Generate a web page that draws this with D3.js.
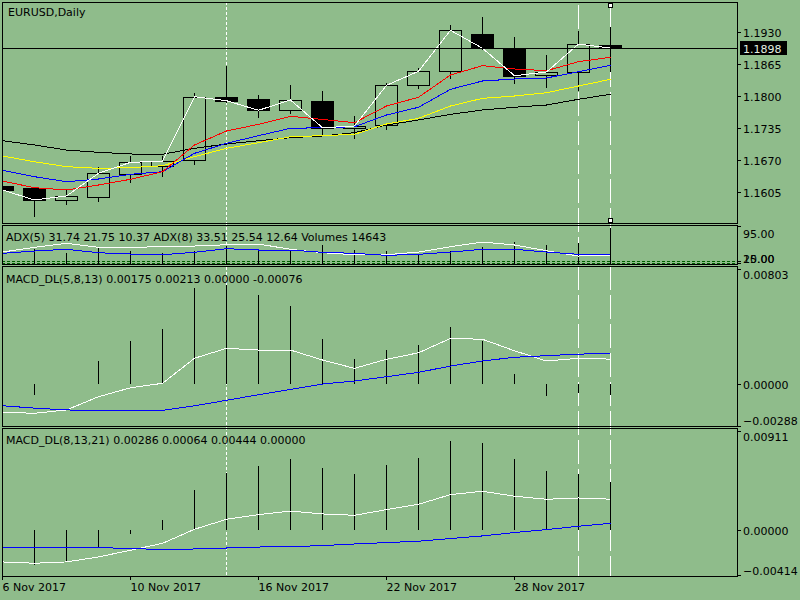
<!DOCTYPE html>
<html>
<head>
<meta charset="utf-8">
<script src="https://cdn.jsdelivr.net/npm/d3@7"></script>
<style>
body { margin: 0; background: #8fbc8b; }
svg { display: block; }
text { font-family: "DejaVu Sans", sans-serif; font-size: 11px; fill: #000; }
</style>
</head>
<body>
<div id="chart"></div>
<script>
// bars, one per trading day
var dates = ["6 Nov 2017", "7 Nov 2017", "8 Nov 2017", "9 Nov 2017", "10 Nov 2017",
	"13 Nov 2017", "14 Nov 2017", "15 Nov 2017", "16 Nov 2017", "17 Nov 2017",
	"20 Nov 2017", "21 Nov 2017", "22 Nov 2017", "23 Nov 2017", "24 Nov 2017",
	"27 Nov 2017", "28 Nov 2017", "29 Nov 2017", "30 Nov 2017", "1 Dec 2017"];
var dateTicks = [0, 4, 8, 12, 16];

var open  = [1.16178, 1.16131, 1.15888, 1.15961, 1.16428, 1.16584, 1.16700, 1.17986, 1.17945, 1.17716,
	1.17904, 1.17350, 1.17411, 1.18223, 1.18520, 1.19265, 1.18975, 1.18427, 1.18487, 1.19042];
var high  = [1.16210, 1.16150, 1.16111, 1.16558, 1.16787, 1.16787, 1.18061, 1.18615, 1.18026, 1.18223,
	1.18108, 1.17600, 1.18264, 1.18569, 1.19448, 1.19617, 1.19198, 1.18839, 1.19320, 1.19402];
var low   = [1.16060, 1.15542, 1.15798, 1.15859, 1.16233, 1.16367, 1.16611, 1.17858, 1.17565, 1.17647,
	1.17214, 1.17127, 1.17315, 1.18142, 1.18357, 1.18940, 1.18256, 1.18175, 1.18108, 1.18500];
var close = [1.16097, 1.15894, 1.15975, 1.16436, 1.16659, 1.16680, 1.17992, 1.17911, 1.17716, 1.17925,
	1.17362, 1.17397, 1.18223, 1.18508, 1.19341, 1.18975, 1.18418, 1.18494, 1.19062, 1.18980];
var bid = 1.18980;

// moving averages on the price pane
var maRed    = [1.16279, 1.16143, 1.16097, 1.16198, 1.16314, 1.16468, 1.17011, 1.17295, 1.17431, 1.17594,
	1.17529, 1.17464, 1.17803, 1.17980, 1.18433, 1.18622, 1.18555, 1.18520, 1.18703, 1.18792];
var maBlue   = [1.16497, 1.16367, 1.16265, 1.16320, 1.16416, 1.16468, 1.16842, 1.17045, 1.17200, 1.17350,
	1.17362, 1.17382, 1.17620, 1.17777, 1.18142, 1.18311, 1.18351, 1.18372, 1.18500, 1.18630];
var maYellow = [1.16787, 1.16671, 1.16570, 1.16537, 1.16550, 1.16590, 1.16773, 1.16944, 1.17057, 1.17179,
	1.17200, 1.17228, 1.17437, 1.17553, 1.17803, 1.17959, 1.18006, 1.18073, 1.18209, 1.18345];
var maBlack  = [1.17098, 1.17011, 1.16909, 1.16862, 1.16828, 1.16822, 1.16944, 1.17031, 1.17098, 1.17159,
	1.17194, 1.17261, 1.17417, 1.17519, 1.17634, 1.17722, 1.17777, 1.17823, 1.17939, 1.18041];

// ADX + volumes pane
var adx5 = [38.8, 49.0, 57.6, 49.0, 49.0, 50.3, 51.8, 54.6, 56.1, 44.7,
	37.3, 33.0, 33.0, 38.8, 50.3, 60.4, 54.0, 41.7, 30.2, 31.74];
var adx8 = [36.0, 41.0, 44.7, 37.3, 34.5, 33.0, 38.2, 46.0, 43.2, 43.2,
	38.2, 36.0, 31.7, 33.9, 38.8, 44.7, 44.7, 38.8, 33.9, 33.51];
var volumes = [5700, 6100, 4480, 6920, 5290, 4480, 5290, 7330, 6100, 6100,
	7730, 5700, 5290, 3660, 5290, 6920, 8950, 7730, 8550, 14643];
var adxLevels = [20, 15];

// MACD_DL(5,8,13)
var macd1Main   = [-0.00194, -0.00201, -0.00178, -0.00086, -0.00024, 0.00007, 0.00181, 0.00250, 0.00238, 0.00238,
	0.00169, 0.00111, 0.00174, 0.00219, 0.00319, 0.00313, 0.00233, 0.00162, 0.00181, 0.00175];
var macd1Signal = [-0.00149, -0.00165, -0.00178, -0.00181, -0.00181, -0.00181, -0.00149, -0.00111, -0.00072, -0.00035,
	0.00002, 0.00023, 0.00053, 0.00083, 0.00127, 0.00162, 0.00188, 0.00199, 0.00210, 0.00213];
var macd1Hist   = [-0.00060, -0.00074, 0.00002, 0.00162, 0.00301, 0.00384, 0.00667, 0.00690, 0.00620, 0.00544,
	0.00315, 0.00176, 0.00238, 0.00273, 0.00398, 0.00303, 0.00072, -0.00079, -0.00063, -0.00076];

// MACD_DL(8,13,21)
var macd2Main   = [-0.00291, -0.00303, -0.00291, -0.00245, -0.00184, -0.00120, 0.00009, 0.00101, 0.00144, 0.00177,
	0.00150, 0.00138, 0.00190, 0.00239, 0.00328, 0.00359, 0.00313, 0.00285, 0.00297, 0.00286];
var macd2Signal = [-0.00154, -0.00154, -0.00159, -0.00159, -0.00168, -0.00177, -0.00172, -0.00163, -0.00154, -0.00150,
	-0.00141, -0.00126, -0.00113, -0.00101, -0.00076, -0.00052, -0.00021, 0.00006, 0.00037, 0.00064];
var macd2Hist   = [-0.00310, -0.00320, -0.00285, -0.00163, -0.00030, 0.00092, 0.00368, 0.00530, 0.00588, 0.00653,
	0.00576, 0.00521, 0.00598, 0.00668, 0.00821, 0.00806, 0.00659, 0.00542, 0.00515, 0.00444];

// tick labels
var priceTicks = [1.1605, 1.1670, 1.1735, 1.1800, 1.1865, 1.1930];
var adxTicks = [95, 20, 15];
var macd1Ticks = [0.00803, 0, -0.00288];
var macd2Ticks = [0.00911, 0, -0.00414];

// vertical lines on the chart (bar index)
var dottedBars = [7];
var dashedBars = [18, 19];

var titles = {
	main: "EURUSD,Daily",
	adx: "ADX(5) 31.74 21.75 10.37 ADX(8) 33.51 25.54 12.64 Volumes 14643",
	m1: "MACD_DL(5,8,13) 0.00175 0.00213 0.00000 -0.00076",
	m2: "MACD_DL(8,13,21) 0.00286 0.00064 0.00444 0.00000"
};

var width = 800,
	height = 600,
	left = 2,
	right = 737,
	bg = "#8fbc8b";

var panes = {
	main: { top: 2, bottom: 223 },
	adx: { top: 225, bottom: 264 },
	m1: { top: 266, bottom: 426 },
	m2: { top: 428, bottom: 576 }
};

var n = close.length;
var idx = d3.range(n);

var x = d3.scaleLinear().domain([0, n - 1]).range([2, 610]);
var yMain = d3.scaleLinear().domain([1.1605, 1.1930]).range([192.3, 32.3]);
var yAdx = d3.scaleLinear().domain([13, 95]).range([264, 226]);
var yVol = d3.scaleLinear().domain([0, 15450]).range([264, 226]);
var yM1 = d3.scaleLinear().domain([-0.00288, 0.00803]).range([425.8, 268.7]);
var yM2 = d3.scaleLinear().domain([-0.00414, 0.00911]).range([575.3, 431.2]);

var svg = d3.select("#chart")
	.append("svg")
		.attr("width", width)
		.attr("height", height)
		.attr("shape-rendering", "crispEdges");

svg.append("rect")
	.attr("width", width)
	.attr("height", height)
	.attr("fill", bg);

var defs = svg.append("defs");
Object.keys(panes).forEach(function(k){
	defs.append("clipPath").attr("id", "clip-" + k)
		.append("rect")
			.attr("x", left)
			.attr("y", panes[k].top)
			.attr("width", right - left)
			.attr("height", panes[k].bottom - panes[k].top);
});

function px(i){ return x(i) + 0.5; }

// vertical marker lines, behind everything
var vlines = svg.append("g");
vlines.selectAll("line.dot")
	.data(dottedBars)
	.enter().append("line")
	.attr("x1", px).attr("x2", px)
	.attr("y1", panes.main.top).attr("y2", panes.m2.bottom)
	.attr("stroke", "#fff")
	.attr("stroke-dasharray", "3,2");
vlines.selectAll("line.dash")
	.data(dashedBars)
	.enter().append("line")
	.attr("x1", px).attr("x2", px)
	.attr("y1", panes.main.top + 3).attr("y2", panes.m2.bottom)
	.attr("stroke", "#fff")
	.attr("stroke-dasharray", "24,5");

function drawLine(g, data, scale, colour){
	g.append("path")
		.datum(data)
		.attr("fill", "none")
		.attr("stroke", colour)
		.attr("stroke-width", 1)
		.attr("d", d3.line()
			.x(function(d, i){ return px(i); })
			.y(function(d){ return scale(d); }));
}

// ---- price pane
var gMain = svg.append("g").attr("clip-path", "url(#clip-main)");

gMain.selectAll("line.wick")
	.data(idx)
	.enter().append("line")
	.attr("x1", px).attr("x2", px)
	.attr("y1", function(i){ return yMain(high[i]); })
	.attr("y2", function(i){ return yMain(low[i]); })
	.attr("stroke", "#000");

gMain.selectAll("rect.body")
	.data(idx)
	.enter().append("rect")
	.attr("x", function(i){ return x(i) - 10.5; })
	.attr("width", 22)
	.attr("y", function(i){ return Math.round(yMain(Math.max(open[i], close[i]))) + 0.5; })
	.attr("height", function(i){
		var top = Math.round(yMain(Math.max(open[i], close[i])));
		var bot = Math.round(yMain(Math.min(open[i], close[i])));
		return Math.max(bot - top, 1);
	})
	.attr("fill", function(i){ return close[i] >= open[i] ? bg : "#000"; })
	.attr("stroke", "#000");

drawLine(gMain, maBlack, yMain, "#000");
drawLine(gMain, maYellow, yMain, "#ffff00");
drawLine(gMain, maBlue, yMain, "#0000ff");
drawLine(gMain, maRed, yMain, "#ff0000");
drawLine(gMain, close, yMain, "#fff");

gMain.append("line")
	.attr("x1", left).attr("x2", right)
	.attr("y1", Math.round(yMain(bid)) + 0.5)
	.attr("y2", Math.round(yMain(bid)) + 0.5)
	.attr("stroke", "#000");

// ---- ADX / volumes pane
var gAdx = svg.append("g").attr("clip-path", "url(#clip-adx)");

gAdx.selectAll("line.level")
	.data(adxLevels)
	.enter().append("line")
	.attr("x1", left).attr("x2", right)
	.attr("y1", function(d){ return Math.round(yAdx(d)) + 0.5; })
	.attr("y2", function(d){ return Math.round(yAdx(d)) + 0.5; })
	.attr("stroke", "#006400")
	.attr("stroke-dasharray", "3,2");

gAdx.selectAll("line.vol")
	.data(volumes)
	.enter().append("line")
	.attr("x1", function(d, i){ return px(i); })
	.attr("x2", function(d, i){ return px(i); })
	.attr("y1", yVol(0))
	.attr("y2", function(d){ return yVol(d); })
	.attr("stroke", "#000");

drawLine(gAdx, adx5, yAdx, "#fff");
drawLine(gAdx, adx8, yAdx, "#0000ff");

// ---- MACD panes
function macdPane(key, hist, main, signal, scale){
	var g = svg.append("g").attr("clip-path", "url(#clip-" + key + ")");
	g.selectAll("line.hist")
		.data(hist)
		.enter().append("line")
		.attr("x1", function(d, i){ return px(i); })
		.attr("x2", function(d, i){ return px(i); })
		.attr("y1", scale(0))
		.attr("y2", function(d){ return scale(d); })
		.attr("stroke", "#000");
	drawLine(g, main, scale, "#fff");
	drawLine(g, signal, scale, "#0000ff");
}
macdPane("m1", macd1Hist, macd1Main, macd1Signal, yM1);
macdPane("m2", macd2Hist, macd2Main, macd2Signal, yM2);

// ---- frames
Object.keys(panes).forEach(function(k){
	svg.append("rect")
		.attr("x", left + 0.5)
		.attr("y", panes[k].top + 0.5)
		.attr("width", right - left)
		.attr("height", panes[k].bottom - panes[k].top)
		.attr("fill", "none")
		.attr("stroke", "#000");
});

// ---- right axes
function rightAxis(key, scale, ticks, fmt){
	var p = panes[key];
	var ax = svg.append("g")
		.attr("transform", "translate(" + right + ",0)")
		.call(d3.axisRight(scale).tickValues(ticks).tickSize(4).tickPadding(2).tickFormat(fmt));
	ax.attr("font-family", null).attr("font-size", null);
	ax.select(".domain").remove();
	ax.selectAll(".tick line").attr("stroke", "#000");
	ax.selectAll(".tick text")
		.attr("fill", "#000")
		.attr("dy", null)
		.attr("y", function(d){
			var yv = scale(d);
			var base = Math.min(Math.max(yv + 4.3, p.top + 12), p.bottom - 2);
			return base - yv;
		});
	ax.selectAll(".tick").filter(function(d){
		var yv = scale(d);
		return yv < p.top || yv > p.bottom;
	}).select("line").remove();
	return ax;
}
rightAxis("main", yMain, priceTicks, d3.format(".4f"));
rightAxis("adx", yAdx, adxTicks, d3.format(".2f"));
rightAxis("m1", yM1, macd1Ticks, d3.format(".5f"));
rightAxis("m2", yM2, macd2Ticks, d3.format(".5f"));

// bid price tag
var bidY = Math.round(yMain(bid));
svg.append("rect")
	.attr("x", 740).attr("y", bidY - 7)
	.attr("width", 47).attr("height", 14)
	.attr("fill", "#000");
svg.append("text")
	.attr("x", 743).attr("y", bidY + 4.5)
	.style("fill", "#e4f0e0")
	.text(d3.format(".4f")(bid));

// ---- time axis
var tax = svg.append("g")
	.attr("transform", "translate(0," + panes.m2.bottom + ")")
	.call(d3.axisBottom(x).tickValues(dateTicks).tickSize(4)
		.tickFormat(function(i){ return dates[i]; }));
tax.attr("font-family", null).attr("font-size", null);
tax.select(".domain").remove();
tax.selectAll(".tick line").attr("stroke", "#000");
tax.selectAll(".tick text")
	.attr("fill", "#000")
	.attr("text-anchor", "start")
	.attr("x", 0)
	.attr("dy", null)
	.attr("y", 15);

// ---- titles
svg.append("text").attr("x", 8).attr("y", 16).text(titles.main);
svg.append("text").attr("x", 6).attr("y", 241).text(titles.adx);
svg.append("text").attr("x", 6).attr("y", 282.5).text(titles.m1);
svg.append("text").attr("x", 6).attr("y", 444).text(titles.m2);

// selection handles of the last vertical line
svg.selectAll("rect.handle")
	.data([panes.main.top + 3, panes.main.bottom - 3])
	.enter().append("rect")
	.attr("x", x(n - 1) - 1.5)
	.attr("y", function(d){ return d - 1.5; })
	.attr("width", 4).attr("height", 4)
	.attr("fill", "#fff")
	.attr("stroke", "#000");
</script>
</body>
</html>
